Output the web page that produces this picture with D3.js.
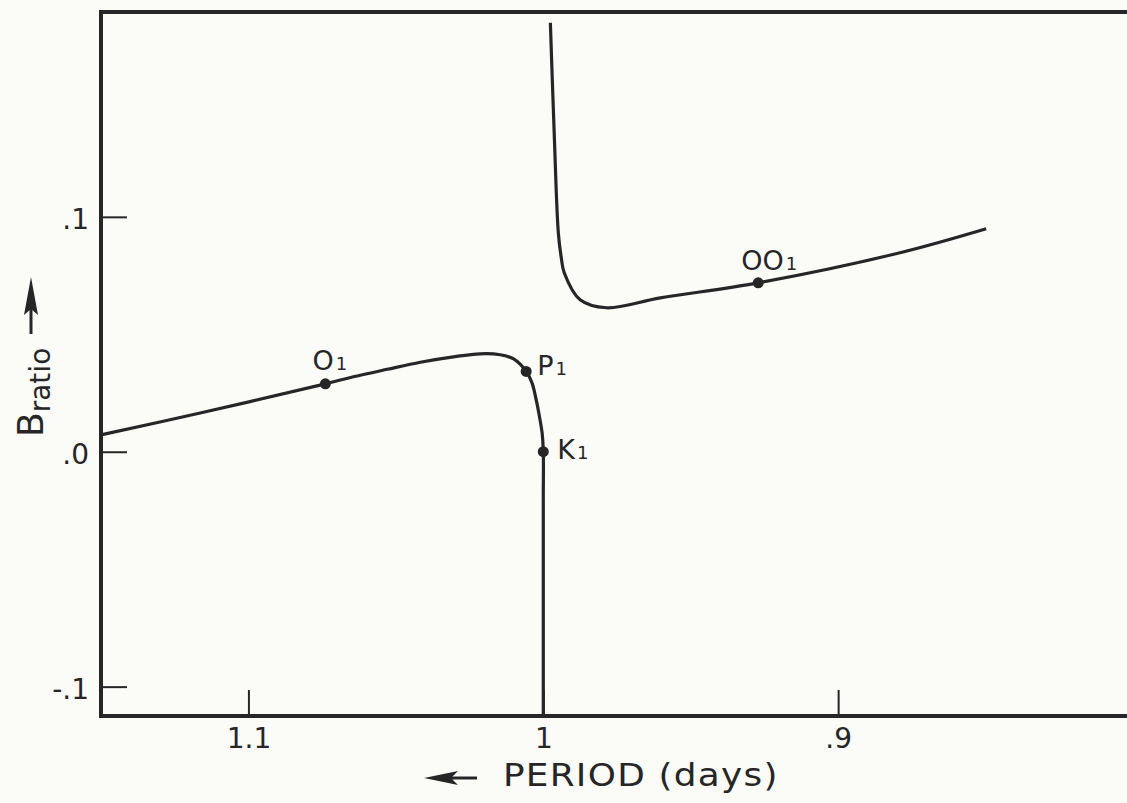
<!DOCTYPE html>
<html>
<head>
<meta charset="utf-8">
<script src="https://cdn.jsdelivr.net/npm/d3@7"></script>
<style>
  body { margin: 0; background: #fbfbf8; }
  svg { display: block; font-family: "DejaVu Sans", sans-serif; }
</style>
</head>
<body>
<svg width="1127" height="803"></svg>
<script>
// lower branch: from the left edge through O1 and P1, then straight down through K1
let lowerPeriod = [1.150, 1.116, 1.0739, 1.0644, 1.0529, 1.0417, 1.0305, 1.0214, 1.0146, 1.0102, 1.0058, 1.0038, 1.0024, 1.0013, 1.0004, 1.0, 1.0, 1.0];
let lowerRatio  = [0.0072, 0.0166, 0.0289, 0.0319, 0.0351, 0.0381, 0.0404, 0.0417, 0.0413, 0.0396, 0.0342, 0.0292, 0.0221, 0.0150, 0.0080, 0.0, -0.02, -0.1125];

// upper branch: comes down near P = 1 day, through OO1
let upperPeriod = [0.9976, 0.9963, 0.9949, 0.9939, 0.9929, 0.9875, 0.9786, 0.9603, 0.9271, 0.8790, 0.8498];
let upperRatio  = [0.1826, 0.1357, 0.0932, 0.0826, 0.0762, 0.0647, 0.0613, 0.0655, 0.0719, 0.0847, 0.0949];

// marked points
let pointNames  = ["O", "P", "K", "OO"];
let pointPeriod = [1.0739, 1.0058, 1.0, 0.9271];
let pointRatio  = [0.0289, 0.0342, 0.0, 0.0719];

let xTicks = [1.1, 1.0, 0.9];
let xTickLabels = ["1.1", "1", ".9"];
let yTicks = [0.1, 0.0, -0.1];
let yTickLabels = [".1", ".0", "-.1"];

let svg = d3.select("svg"),
    ink = "#262626";

// period runs backwards: long periods on the left
let x = d3.scaleLinear().domain([1.15, 0.80]).range([101, 1133]);
let y = d3.scaleLinear().domain([-0.1125, 0.1872]).range([716, 12]);

// ticks (inside the frame)
let xAxis = svg.append("g")
  .attr("transform", "translate(0,716)")
  .call(d3.axisBottom(x).tickValues(xTicks).tickSize(-26).tickPadding(12)
    .tickFormat((d, i) => xTickLabels[i]));
let yAxis = svg.append("g")
  .attr("transform", "translate(101,0)")
  .call(d3.axisLeft(y).tickValues(yTicks).tickSize(-26).tickPadding(12)
    .tickFormat((d, i) => yTickLabels[i]));

[xAxis, yAxis].forEach(a => {
  a.select(".domain").remove();
  a.selectAll(".tick line").attr("stroke", ink).attr("stroke-width", 2);
  a.selectAll(".tick text").attr("fill", ink).style("font-family", "DejaVu Sans").style("font-size", "28px");
});
yAxis.selectAll(".tick text").attr("dy", "0.42em");

// frame: left, top and bottom only
svg.append("path")
  .attr("d", "M1127,12H101V716H1127")
  .attr("fill", "none")
  .attr("stroke", ink)
  .attr("stroke-width", 4);

let line = d3.line()
  .x(d => x(d[0]))
  .y(d => y(d[1]))
  .curve(d3.curveCatmullRom.alpha(0.5));

let lower = lowerPeriod.map((p, i) => [p, lowerRatio[i]]);
let upper = upperPeriod.map((p, i) => [p, upperRatio[i]]);

svg.selectAll(".branch")
  .data([lower, upper])
  .enter().append("path")
  .attr("class", "branch")
  .attr("d", line)
  .attr("fill", "none")
  .attr("stroke", ink)
  .attr("stroke-width", 3.2);

// points and their labels
let labelOffset = { O: [-13, -14], P: [11, 4], K: [14, 7], OO: [-17, -13] };

let pts = svg.selectAll(".pt")
  .data(pointNames.map((n, i) => ({ name: n, p: pointPeriod[i], b: pointRatio[i] })))
  .enter().append("g")
  .attr("class", "pt")
  .attr("transform", d => `translate(${x(d.p)},${y(d.b)})`);

pts.append("circle").attr("r", 5.5).attr("fill", ink);

let lbl = pts.append("text")
  .attr("x", d => labelOffset[d.name][0])
  .attr("y", d => labelOffset[d.name][1])
  .attr("fill", ink)
  .style("font-size", "27px");
lbl.append("tspan").text(d => d.name);
lbl.append("tspan").attr("dx", 2).style("font-size", "18px").text("1");

// y label: B ratio with arrow up
let yl = svg.append("g").attr("transform", "translate(43,437) rotate(-90)");
let ylt = yl.append("text").attr("fill", ink);
ylt.append("tspan").style("font-size", "36px").text("B");
ylt.append("tspan").attr("dy", 7).style("font-size", "28px").text("ratio");
yl.append("path")
  .attr("d", "M103,-12H128")
  .attr("stroke", ink).attr("stroke-width", 3);
yl.append("path")
  .attr("d", "M160,-12L122,-19L128,-12L122,-5Z")
  .attr("fill", ink);

// x label with arrow pointing to longer periods
svg.append("path")
  .attr("d", "M450,778H477")
  .attr("stroke", ink).attr("stroke-width", 3);
svg.append("path")
  .attr("d", "M424,778L458,771L451,778L458,785Z")
  .attr("fill", ink);
svg.append("text")
  .attr("transform", "translate(503,786) scale(1.12,1)")
  .attr("fill", ink)
  .attr("textLength", 245)
  .attr("lengthAdjust", "spacing")
  .style("font-size", "32px")
  .text("PERIOD (days)");
</script>
</body>
</html>
